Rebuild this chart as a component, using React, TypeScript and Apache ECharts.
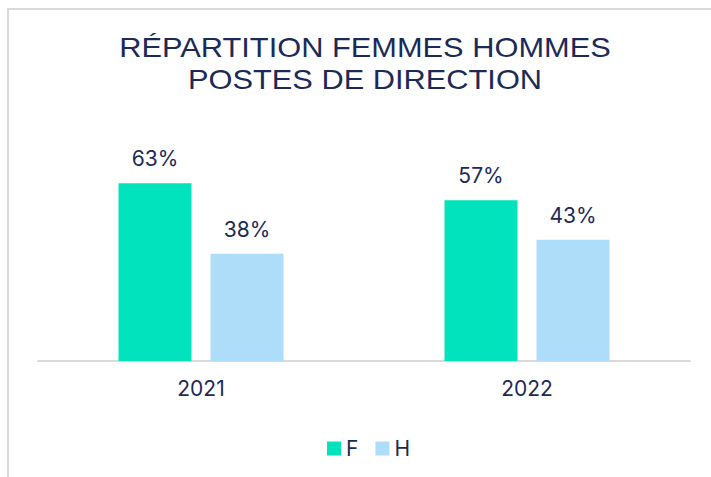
import React, { useEffect, useRef } from "react";
import * as echarts from "echarts";

const categories = ["2021", "2022"];
const femmes = [63, 57];
const hommes = [38, 43];
const seriesNames = ["F", "H"];
const titleLines = ["RÉPARTITION FEMMES HOMMES", "POSTES DE DIRECTION"];

const NAVY = "#1B2A57";
const FONT = "Inter, 'Noto Sans', sans-serif";

export default function App() {
  const ref = useRef<HTMLDivElement>(null);
  useEffect(() => {
    if (!ref.current) return;
    const chart = echarts.init(ref.current, null, { renderer: "svg" });
    const label = {
      show: true,
      position: "top" as const,
      distance: 14,
      formatter: "{c}%",
      color: NAVY,
      fontSize: 21,
      fontFamily: FONT,
    };
    chart.setOption({
      animation: false,
      backgroundColor: "#ffffff",
      graphic: [
        {
          type: "rect",
          shape: { x: 8, y: 9, width: 760, height: 520 },
          style: { fill: "none", stroke: "#d9d9d9", lineWidth: 2 },
          silent: true,
        },
        ...titleLines.map((t, i) => ({
          type: "text",
          x: 365,
          y: 48 + i * 32,
          scaleX: 1.12,
          silent: true,
          style: {
            text: t,
            fill: NAVY,
            fontSize: 27.5,
            fontFamily: "'Liberation Sans', Arial, sans-serif",
            align: "center",
            verticalAlign: "middle",
          },
        })),
      ],
      legend: {
        top: 433,
        left: 322,
        itemWidth: 14,
        itemHeight: 14,
        itemGap: 17,
        itemStyle: { borderWidth: 0 },
        icon: "rect",
        textStyle: { color: NAVY, fontSize: 21, fontFamily: FONT },
        data: seriesNames,
      },
      grid: { left: 38, right: 21, top: 163.6, bottom: 116 },
      xAxis: {
        type: "category",
        data: categories,
        axisLine: { lineStyle: { color: "#d9d9d9", width: 2 } },
        axisTick: { show: false },
        axisLabel: { color: NAVY, fontSize: 21, fontFamily: FONT, margin: 17 },
      },
      yAxis: {
        type: "value",
        min: 0,
        max: 70,
        show: false,
        splitLine: { show: false },
      },
      series: [
        {
          name: seriesNames[0],
          type: "bar",
          data: femmes,
          barWidth: 73,
          barGap: "26%",
          itemStyle: { color: "#00E3BD" },
          label,
        },
        {
          name: seriesNames[1],
          type: "bar",
          data: hommes,
          barWidth: 73,
          itemStyle: { color: "#AEDDF9" },
          label,
        },
      ],
    });
    return () => chart.dispose();
  }, []);
  return (
    <div
      ref={ref}
      style={{ position: "absolute", left: 0, top: 0, width: 711, height: 477 }}
    />
  );
}
